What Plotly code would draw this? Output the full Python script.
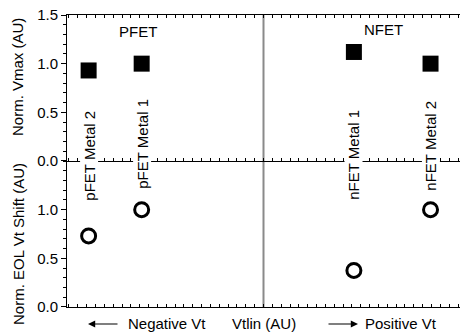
import plotly.graph_objects as go

# ---- data ----
labels = ["pFET Metal 2", "pFET Metal 1", "nFET Metal 1", "nFET Metal 2"]
vtlin = [-0.89, -0.62, 0.46, 0.85]
vmax = [0.93, 1.0, 1.12, 1.0]
eol_shift = [0.73, 1.0, 0.375, 1.0]
top_ticks = [0.0, 0.5, 1.0, 1.5]
bottom_ticks = [0.0, 0.5, 1.0]
label_ypos = [0.517, 0.558, 0.521, 0.551]

FONT = "Liberation Sans, Arial, sans-serif"
fig = go.Figure()

fig.add_trace(go.Scatter(
    x=vtlin, y=vmax, mode="markers", xaxis="x", yaxis="y",
    marker=dict(symbol="square", size=16, color="black"), showlegend=False))
fig.add_trace(go.Scatter(
    x=vtlin, y=eol_shift, mode="markers", xaxis="x2", yaxis="y2",
    marker=dict(symbol="circle-open", size=14, color="black", line=dict(width=3, color="black")),
    showlegend=False))

xcommon = dict(range=[-1, 1], showgrid=False, zeroline=False, showline=True,
               linecolor="black", linewidth=1, showticklabels=False,
               tickmode="linear", tick0=0, dtick=0.045, ticks="inside", ticklen=3,
               tickcolor="black", tickwidth=1)
ycommon = dict(range=[-0.0005, 1.5], showgrid=False, zeroline=False, showline=True,
               linecolor="black", linewidth=1, ticks="outside", ticklen=5,
               tickcolor="black", tickformat=".1f",
               tickfont=dict(family=FONT, size=15, color="black"),
               minor=dict(dtick=0.1, tick0=0, ticks="outside", ticklen=3, tickcolor="black"))

fig.update_layout(
    width=460, height=334,
    margin=dict(l=67, r=0, t=15, b=27),
    paper_bgcolor="white", plot_bgcolor="white",
    font=dict(family=FONT, size=15, color="black"),
    xaxis=dict(**xcommon, anchor="y", domain=[0, 1], mirror="allticks"),
    xaxis2=dict(**xcommon, anchor="y2", domain=[0, 1], matches="x"),
    yaxis=dict(**ycommon, domain=[0.5, 1], anchor="x", tickvals=top_ticks),
    yaxis2=dict(**ycommon, domain=[0, 0.5], anchor="x2", tickvals=bottom_ticks),
    yaxis3=dict(range=[-0.0005, 1.5], overlaying="y", side="right", anchor="free", position=0.995,
                showline=False, showgrid=False, zeroline=False, showticklabels=False,
                tickvals=top_ticks[:-1], ticks="inside", ticklen=4, tickcolor="black"),
    yaxis4=dict(range=[-0.0005, 1.5], overlaying="y2", side="right", anchor="free", position=0.995,
                showline=False, showgrid=False, zeroline=False, showticklabels=False,
                tickvals=bottom_ticks[1:], ticks="inside", ticklen=4, tickcolor="black"),
)

# vertical gray divider at Vtlin = 0
fig.add_shape(type="line", xref="x", yref="paper", x0=0, x1=0, y0=0, y1=1,
              line=dict(color="#8a8a8a", width=2), layer="below")

C = dict(xanchor="center", yanchor="middle", showarrow=False)

# device labels (vertical) with white background to break the middle line
for lab, xv, yp in zip(labels, vtlin, label_ypos):
    fig.add_annotation(x=xv, y=yp, xref="x", yref="paper", text=lab, textangle=-90,
                       bgcolor="white", borderpad=0, **C,
                       font=dict(family=FONT, size=15, color="black"))

fig.add_annotation(x=(138 - 67) / 393, y=(307 - 31) / 292, xref="paper", yref="paper",
                   text="PFET", font=dict(size=15), **C)
fig.add_annotation(x=(383 - 67) / 393, y=(307 - 30) / 292, xref="paper", yref="paper",
                   text="NFET", font=dict(size=15), **C)

# y-axis titles
fig.add_annotation(x=(18 - 67) / 393, y=(307 - 77) / 292, xref="paper", yref="paper",
                   text="Norm. Vmax (AU)", textangle=-90, font=dict(size=15), **C)
fig.add_annotation(x=(18 - 67) / 393, y=(307 - 244) / 292, xref="paper", yref="paper",
                   text="Norm. EOL Vt Shift (AU)", textangle=-90, font=dict(size=15), **C)

# x-axis title line
ty = (307 - 323) / 292
fig.add_annotation(x=(167 - 67) / 393, y=ty, xref="paper", yref="paper",
                   text="Negative Vt", font=dict(size=15), **C)
fig.add_annotation(x=(264 - 67) / 393, y=ty, xref="paper", yref="paper",
                   text="Vtlin (AU)", font=dict(size=15), **C)
fig.add_annotation(x=(401 - 67) / 393, y=ty, xref="paper", yref="paper",
                   text="Positive Vt", font=dict(size=15), **C)
ay_ = (307 - 324) / 292
fig.add_annotation(x=(88 - 67) / 393, y=ay_, xref="paper", yref="paper", text="",
                   showarrow=True, ax=31, ay=0, arrowhead=2, arrowsize=1.2,
                   arrowwidth=1.2, arrowcolor="black")
fig.add_annotation(x=(358 - 67) / 393, y=ay_, xref="paper", yref="paper", text="",
                   showarrow=True, ax=-31, ay=0, arrowhead=2, arrowsize=1.2,
                   arrowwidth=1.2, arrowcolor="black")

fig.write_html("out.html")
